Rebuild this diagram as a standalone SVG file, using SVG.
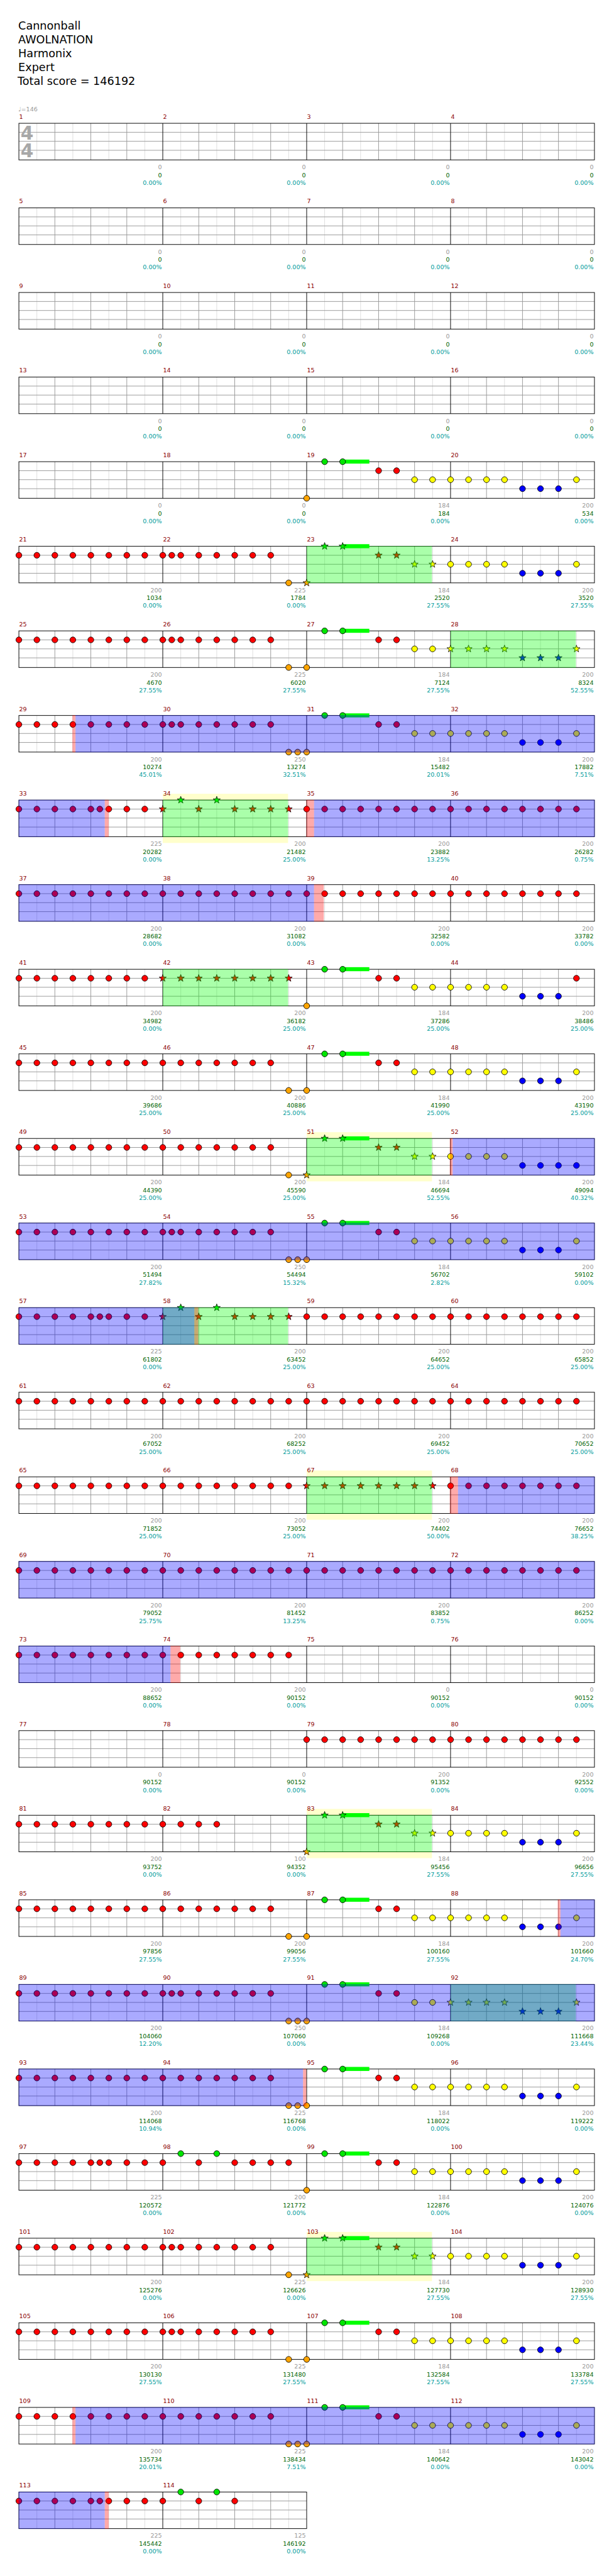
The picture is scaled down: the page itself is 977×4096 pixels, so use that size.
<svg xmlns="http://www.w3.org/2000/svg" width="977" height="4096" viewBox="0 0 977 4096">
<style>
text{font-family:"DejaVu Sans","Liberation Sans",sans-serif;font-size:10px}
.t{font-size:18.5px;fill:#000}
.ts{font-size:31px;font-weight:bold;fill:#a8a8a8}
.n{fill:#8b0000}
.a{fill:#999;text-anchor:end}
.b{fill:#006400;text-anchor:end}
.c{fill:#009c9c;text-anchor:end}
.ys{fill:#ffffcc}
.og{fill:#0f0;fill-opacity:.333}
.ob{fill:#00f;fill-opacity:.333}
.op{fill:#f00;fill-opacity:.333}
</style>
<defs>
<g id="g4"><rect width="960" height="61" fill="#fff"/><path d="M30 0v61M90 0v61M150 0v61M210 0v61M270 0v61M330 0v61M390 0v61M450 0v61M510 0v61M570 0v61M630 0v61M690 0v61M750 0v61M810 0v61M870 0v61M930 0v61" stroke="#ddd"/><path d="M60 0v61M120 0v61M180 0v61M300 0v61M360 0v61M420 0v61M540 0v61M600 0v61M660 0v61M780 0v61M840 0v61M900 0v61M0 15h960M0 30h960M0 45h960" stroke="#999"/><path d="M240 0v61M480 0v61M720 0v61" stroke="#000"/><rect width="960" height="61" fill="none" stroke="#000"/></g>
<g id="g2"><rect width="480" height="61" fill="#fff"/><path d="M30 0v61M90 0v61M150 0v61M210 0v61M270 0v61M330 0v61M390 0v61M450 0v61" stroke="#ddd"/><path d="M60 0v61M120 0v61M180 0v61M300 0v61M360 0v61M420 0v61M0 15h480M0 30h480M0 45h480" stroke="#999"/><path d="M240 0v61" stroke="#000"/><rect width="480" height="61" fill="none" stroke="#000"/></g>
<circle id="R" r="4.9" fill="#f00" stroke="#000" stroke-width=".9"/>
<circle id="Y" r="4.9" fill="#ff0" stroke="#000" stroke-width=".9"/>
<circle id="B" r="4.9" fill="#00f" stroke="#000" stroke-width=".9"/>
<circle id="O" r="4.9" fill="#ffa500" stroke="#000" stroke-width=".9"/>
<circle id="G" r="4.9" fill="#00e600" stroke="#000" stroke-width=".9"/>
<path id="st" d="M0-6.3L1.5-2.06L5.99-1.95L2.43.79L3.7 5.1L0 2.55L-3.7 5.1L-2.43.79L-5.99-1.95L-1.5-2.06Z" stroke="#000" stroke-width=".8"/>
<use id="SR" href="#st" fill="#f00"/>
<use id="SY" href="#st" fill="#ff0"/>
<use id="SB" href="#st" fill="#00f"/>
<use id="SO" href="#st" fill="#ffa500"/>
<use id="SG" href="#st" fill="#00e600"/>
<g id="pR8" transform="translate(0,15)"><use href="#R"/><use href="#R" x="30"/><use href="#R" x="60"/><use href="#R" x="90"/><use href="#R" x="120"/><use href="#R" x="150"/><use href="#R" x="180"/><use href="#R" x="210"/></g>
<g id="pR8b" transform="translate(0,15)"><use href="#R"/><use href="#R" x="15"/><use href="#R" x="30"/><use href="#R" x="60"/><use href="#R" x="90"/><use href="#R" x="120"/><use href="#R" x="150"/><use href="#R" x="180"/></g>
<g id="pR7" transform="translate(0,15)"><use href="#R"/><use href="#R" x="30"/><use href="#R" x="60"/><use href="#R" x="90"/><use href="#R" x="120"/><use href="#R" x="150"/><use href="#R" x="180"/></g>
<g id="pR9" transform="translate(0,15)"><use href="#R"/><use href="#R" x="30"/><use href="#R" x="60"/><use href="#R" x="90"/><use href="#R" x="120"/><use href="#R" x="135"/><use href="#R" x="150"/><use href="#R" x="180"/><use href="#R" x="210"/></g>
<g id="pR4" transform="translate(0,15)"><use href="#R"/><use href="#R" x="30"/><use href="#R" x="60"/><use href="#R" x="90"/></g>
<g id="pR8s" transform="translate(0,15)"><use href="#SR"/><use href="#SR" x="30"/><use href="#SR" x="60"/><use href="#SR" x="90"/><use href="#SR" x="120"/><use href="#SR" x="150"/><use href="#SR" x="180"/><use href="#SR" x="210"/></g>
<g id="pRG"><use href="#R" y="15"/><use href="#G" x="30"/><use href="#R" x="60" y="15"/><use href="#G" x="90"/><use href="#R" x="120" y="15"/><use href="#R" x="150" y="15"/><use href="#R" x="180" y="15"/><use href="#R" x="210" y="15"/></g>
<g id="pRG5"><use href="#R" y="15"/><use href="#G" x="30"/><use href="#R" x="60" y="15"/><use href="#G" x="90"/><use href="#R" x="120" y="15"/></g>
<g id="pRGs"><use href="#SR" y="15"/><use href="#SG" x="30"/><use href="#SR" x="60" y="15"/><use href="#SG" x="90"/><use href="#SR" x="120" y="15"/><use href="#SR" x="150" y="15"/><use href="#SR" x="180" y="15"/><use href="#SR" x="210" y="15"/></g>
<g id="pA1"><rect x="60" y="-3.5" width="44.5" height="6.7" fill="#0f0"/><use href="#G" x="30"/><use href="#G" x="60"/><use href="#R" x="120" y="15"/><use href="#R" x="150" y="15"/><use href="#Y" x="180" y="30"/><use href="#Y" x="210" y="30"/></g>
<g id="pA1s"><rect x="60" y="-3.5" width="44.5" height="6.7" fill="#0f0"/><use href="#SG" x="30"/><use href="#SG" x="60"/><use href="#SR" x="120" y="15"/><use href="#SR" x="150" y="15"/><use href="#SY" x="180" y="30"/><use href="#SY" x="210" y="30"/></g>
<g id="pA2"><use href="#Y" y="30"/><use href="#Y" x="30" y="30"/><use href="#Y" x="60" y="30"/><use href="#Y" x="90" y="30"/><use href="#B" x="120" y="45"/><use href="#B" x="150" y="45"/><use href="#B" x="180" y="45"/><use href="#Y" x="210" y="30"/></g>
<g id="pA2s"><use href="#SY" y="30"/><use href="#SY" x="30" y="30"/><use href="#SY" x="60" y="30"/><use href="#SY" x="90" y="30"/><use href="#SB" x="120" y="45"/><use href="#SB" x="150" y="45"/><use href="#SB" x="180" y="45"/><use href="#SY" x="210" y="30"/></g>
<g id="pA2r"><use href="#Y" y="30"/><use href="#Y" x="30" y="30"/><use href="#Y" x="60" y="30"/><use href="#Y" x="90" y="30"/><use href="#B" x="120" y="45"/><use href="#B" x="150" y="45"/><use href="#B" x="180" y="45"/><use href="#R" x="210" y="15"/></g>
<g id="pA2b"><use href="#Y" y="30"/><use href="#Y" x="30" y="30"/><use href="#Y" x="60" y="30"/><use href="#Y" x="90" y="30"/><use href="#B" x="120" y="45"/><use href="#B" x="150" y="45"/><use href="#B" x="180" y="45"/><use href="#B" x="210" y="45"/></g>
</defs>
<g transform="scale(0.954)">
<rect width="1024" height="4294" fill="#fff"/>
<g id="title">
<text class="t" x="30.5" y="49">Cannonball</text>
<text class="t" x="30.5" y="72">AWOLNATION</text>
<text class="t" x="30.5" y="95">Harmonix</text>
<text class="t" x="30.5" y="118">Expert</text>
<text class="t" x="29.3" y="141.5">Total score = 146192</text>
</g>

<g id="row1" transform="translate(0,205.5)">
<use href="#g4" x="31.5"/>
<text x="30.5" y="-20.5" fill="#999">♩=146</text>
<text class="ts" x="34.2" y="26.8">4</text>
<text class="ts" x="34.2" y="56.8">4</text>
<text class="n" x="32" y="-7.5">1</text><text class="n" x="272" y="-7.5">2</text><text class="n" x="512" y="-7.5">3</text><text class="n" x="752" y="-7.5">4</text>
<text class="a" x="270" y="76.5">0</text><text class="b" x="270" y="89.8">0</text><text class="c" x="270" y="102.5">0.00%</text>
<text class="a" x="510" y="76.5">0</text><text class="b" x="510" y="89.8">0</text><text class="c" x="510" y="102.5">0.00%</text>
<text class="a" x="750" y="76.5">0</text><text class="b" x="750" y="89.8">0</text><text class="c" x="750" y="102.5">0.00%</text>
<text class="a" x="990" y="76.5">0</text><text class="b" x="990" y="89.8">0</text><text class="c" x="990" y="102.5">0.00%</text>
</g>

<g id="row2" transform="translate(0,346.5)">
<use href="#g4" x="31.5"/>
<text class="n" x="32" y="-7.5">5</text><text class="n" x="272" y="-7.5">6</text><text class="n" x="512" y="-7.5">7</text><text class="n" x="752" y="-7.5">8</text>
<text class="a" x="270" y="76.5">0</text><text class="b" x="270" y="89.8">0</text><text class="c" x="270" y="102.5">0.00%</text>
<text class="a" x="510" y="76.5">0</text><text class="b" x="510" y="89.8">0</text><text class="c" x="510" y="102.5">0.00%</text>
<text class="a" x="750" y="76.5">0</text><text class="b" x="750" y="89.8">0</text><text class="c" x="750" y="102.5">0.00%</text>
<text class="a" x="990" y="76.5">0</text><text class="b" x="990" y="89.8">0</text><text class="c" x="990" y="102.5">0.00%</text>
</g>

<g id="row3" transform="translate(0,487.5)">
<use href="#g4" x="31.5"/>
<text class="n" x="32" y="-7.5">9</text><text class="n" x="272" y="-7.5">10</text><text class="n" x="512" y="-7.5">11</text><text class="n" x="752" y="-7.5">12</text>
<text class="a" x="270" y="76.5">0</text><text class="b" x="270" y="89.8">0</text><text class="c" x="270" y="102.5">0.00%</text>
<text class="a" x="510" y="76.5">0</text><text class="b" x="510" y="89.8">0</text><text class="c" x="510" y="102.5">0.00%</text>
<text class="a" x="750" y="76.5">0</text><text class="b" x="750" y="89.8">0</text><text class="c" x="750" y="102.5">0.00%</text>
<text class="a" x="990" y="76.5">0</text><text class="b" x="990" y="89.8">0</text><text class="c" x="990" y="102.5">0.00%</text>
</g>

<g id="row4" transform="translate(0,628.5)">
<use href="#g4" x="31.5"/>
<text class="n" x="32" y="-7.5">13</text><text class="n" x="272" y="-7.5">14</text><text class="n" x="512" y="-7.5">15</text><text class="n" x="752" y="-7.5">16</text>
<text class="a" x="270" y="76.5">0</text><text class="b" x="270" y="89.8">0</text><text class="c" x="270" y="102.5">0.00%</text>
<text class="a" x="510" y="76.5">0</text><text class="b" x="510" y="89.8">0</text><text class="c" x="510" y="102.5">0.00%</text>
<text class="a" x="750" y="76.5">0</text><text class="b" x="750" y="89.8">0</text><text class="c" x="750" y="102.5">0.00%</text>
<text class="a" x="990" y="76.5">0</text><text class="b" x="990" y="89.8">0</text><text class="c" x="990" y="102.5">0.00%</text>
</g>

<g id="row5" transform="translate(0,769.5)">
<use href="#g4" x="31.5"/>
<use href="#O" x="511.5" y="61"/><use href="#pA1" x="511.5"/><use href="#pA2" x="751.5"/>
<text class="n" x="32" y="-7.5">17</text><text class="n" x="272" y="-7.5">18</text><text class="n" x="512" y="-7.5">19</text><text class="n" x="752" y="-7.5">20</text>
<text class="a" x="270" y="76.5">0</text><text class="b" x="270" y="89.8">0</text><text class="c" x="270" y="102.5">0.00%</text>
<text class="a" x="510" y="76.5">0</text><text class="b" x="510" y="89.8">0</text><text class="c" x="510" y="102.5">0.00%</text>
<text class="a" x="750" y="76.5">184</text><text class="b" x="750" y="89.8">184</text><text class="c" x="750" y="102.5">0.00%</text>
<text class="a" x="990" y="76.5">200</text><text class="b" x="990" y="89.8">534</text><text class="c" x="990" y="102.5">0.00%</text>
</g>

<g id="row6" transform="translate(0,910.5)">
<use href="#g4" x="31.5"/>
<use href="#pR8" x="31.5"/><use href="#pR8b" x="271.5"/><use href="#O" x="481.5" y="61"/><use href="#SO" x="511.5" y="61"/><use href="#pA1s" x="511.5"/><use href="#pA2" x="751.5"/>
<rect class="og" x="511.5" y="-.5" width="209" height="62"/>
<text class="n" x="32" y="-7.5">21</text><text class="n" x="272" y="-7.5">22</text><text class="n" x="512" y="-7.5">23</text><text class="n" x="752" y="-7.5">24</text>
<text class="a" x="270" y="76.5">200</text><text class="b" x="270" y="89.8">1034</text><text class="c" x="270" y="102.5">0.00%</text>
<text class="a" x="510" y="76.5">225</text><text class="b" x="510" y="89.8">1784</text><text class="c" x="510" y="102.5">0.00%</text>
<text class="a" x="750" y="76.5">184</text><text class="b" x="750" y="89.8">2520</text><text class="c" x="750" y="102.5">27.55%</text>
<text class="a" x="990" y="76.5">200</text><text class="b" x="990" y="89.8">3520</text><text class="c" x="990" y="102.5">27.55%</text>
</g>

<g id="row7" transform="translate(0,1051.5)">
<use href="#g4" x="31.5"/>
<use href="#pR8" x="31.5"/><use href="#pR8b" x="271.5"/><use href="#O" x="481.5" y="61"/><use href="#O" x="511.5" y="61"/><use href="#pA1" x="511.5"/><use href="#pA2s" x="751.5"/>
<rect class="og" x="751.5" y="-.5" width="209" height="62"/>
<text class="n" x="32" y="-7.5">25</text><text class="n" x="272" y="-7.5">26</text><text class="n" x="512" y="-7.5">27</text><text class="n" x="752" y="-7.5">28</text>
<text class="a" x="270" y="76.5">200</text><text class="b" x="270" y="89.8">4670</text><text class="c" x="270" y="102.5">27.55%</text>
<text class="a" x="510" y="76.5">225</text><text class="b" x="510" y="89.8">6020</text><text class="c" x="510" y="102.5">27.55%</text>
<text class="a" x="750" y="76.5">184</text><text class="b" x="750" y="89.8">7124</text><text class="c" x="750" y="102.5">27.55%</text>
<text class="a" x="990" y="76.5">200</text><text class="b" x="990" y="89.8">8324</text><text class="c" x="990" y="102.5">52.55%</text>
</g>

<g id="row8" transform="translate(0,1192.5)">
<use href="#g4" x="31.5"/>
<use href="#pR8" x="31.5"/><use href="#pR8b" x="271.5"/><use href="#O" x="481.5" y="61"/><use href="#O" x="496.5" y="61"/><use href="#O" x="511.5" y="61"/><use href="#pA1" x="511.5"/><use href="#pA2" x="751.5"/>
<rect class="op" x="120.7" y="-.5" width="5.2" height="62"/><rect class="ob" x="125.9" y="-.5" width="866.1" height="62"/>
<text class="n" x="32" y="-7.5">29</text><text class="n" x="272" y="-7.5">30</text><text class="n" x="512" y="-7.5">31</text><text class="n" x="752" y="-7.5">32</text>
<text class="a" x="270" y="76.5">200</text><text class="b" x="270" y="89.8">10274</text><text class="c" x="270" y="102.5">45.01%</text>
<text class="a" x="510" y="76.5">250</text><text class="b" x="510" y="89.8">13274</text><text class="c" x="510" y="102.5">32.51%</text>
<text class="a" x="750" y="76.5">184</text><text class="b" x="750" y="89.8">15482</text><text class="c" x="750" y="102.5">20.01%</text>
<text class="a" x="990" y="76.5">200</text><text class="b" x="990" y="89.8">17882</text><text class="c" x="990" y="102.5">7.51%</text>
</g>

<g id="row9" transform="translate(0,1333.5)">
<rect class="ys" x="271.5" y="-10.5" width="209" height="82"/>
<use href="#g4" x="31.5"/>
<use href="#pR9" x="31.5"/><use href="#pRGs" x="271.5"/><use href="#pR8" x="511.5"/><use href="#pR8" x="751.5"/>
<rect class="og" x="271.5" y="-.5" width="209" height="62"/>
<rect class="ob" x="31" y="-.5" width="143.8" height="62"/><rect class="op" x="174.8" y="-.5" width="6.5" height="62"/>
<rect class="op" x="510.8" y="-.5" width="13" height="62"/><rect class="ob" x="523.8" y="-.5" width="468.2" height="62"/>
<text class="n" x="32" y="-7.5">33</text><text class="n" x="272" y="-7.5">34</text><text class="n" x="512" y="-7.5">35</text><text class="n" x="752" y="-7.5">36</text>
<text class="a" x="270" y="76.5">225</text><text class="b" x="270" y="89.8">20282</text><text class="c" x="270" y="102.5">0.00%</text>
<text class="a" x="510" y="76.5">200</text><text class="b" x="510" y="89.8">21482</text><text class="c" x="510" y="102.5">25.00%</text>
<text class="a" x="750" y="76.5">200</text><text class="b" x="750" y="89.8">23882</text><text class="c" x="750" y="102.5">13.25%</text>
<text class="a" x="990" y="76.5">200</text><text class="b" x="990" y="89.8">26282</text><text class="c" x="990" y="102.5">0.75%</text>
</g>

<g id="row10" transform="translate(0,1474.5)">
<use href="#g4" x="31.5"/>
<use href="#pR8" x="31.5"/><use href="#pR8" x="271.5"/><use href="#pR8" x="511.5"/><use href="#pR8" x="751.5"/>
<rect class="ob" x="31" y="-.5" width="492.8" height="62"/><rect class="op" x="523.8" y="-.5" width="16.3" height="62"/>
<text class="n" x="32" y="-7.5">37</text><text class="n" x="272" y="-7.5">38</text><text class="n" x="512" y="-7.5">39</text><text class="n" x="752" y="-7.5">40</text>
<text class="a" x="270" y="76.5">200</text><text class="b" x="270" y="89.8">28682</text><text class="c" x="270" y="102.5">0.00%</text>
<text class="a" x="510" y="76.5">200</text><text class="b" x="510" y="89.8">31082</text><text class="c" x="510" y="102.5">0.00%</text>
<text class="a" x="750" y="76.5">200</text><text class="b" x="750" y="89.8">32582</text><text class="c" x="750" y="102.5">0.00%</text>
<text class="a" x="990" y="76.5">200</text><text class="b" x="990" y="89.8">33782</text><text class="c" x="990" y="102.5">0.00%</text>
</g>

<g id="row11" transform="translate(0,1615.5)">
<use href="#g4" x="31.5"/>
<use href="#pR8" x="31.5"/><use href="#pR8s" x="271.5"/><use href="#O" x="511.5" y="61"/><use href="#pA1" x="511.5"/><use href="#pA2r" x="751.5"/>
<rect class="og" x="271.5" y="-.5" width="209" height="62"/>
<text class="n" x="32" y="-7.5">41</text><text class="n" x="272" y="-7.5">42</text><text class="n" x="512" y="-7.5">43</text><text class="n" x="752" y="-7.5">44</text>
<text class="a" x="270" y="76.5">200</text><text class="b" x="270" y="89.8">34982</text><text class="c" x="270" y="102.5">0.00%</text>
<text class="a" x="510" y="76.5">200</text><text class="b" x="510" y="89.8">36182</text><text class="c" x="510" y="102.5">25.00%</text>
<text class="a" x="750" y="76.5">184</text><text class="b" x="750" y="89.8">37286</text><text class="c" x="750" y="102.5">25.00%</text>
<text class="a" x="990" y="76.5">200</text><text class="b" x="990" y="89.8">38486</text><text class="c" x="990" y="102.5">25.00%</text>
</g>

<g id="row12" transform="translate(0,1756.5)">
<use href="#g4" x="31.5"/>
<use href="#pR8" x="31.5"/><use href="#pR7" x="271.5"/><use href="#O" x="481.5" y="61"/><use href="#O" x="511.5" y="61"/><use href="#pA1" x="511.5"/><use href="#pA2" x="751.5"/>
<text class="n" x="32" y="-7.5">45</text><text class="n" x="272" y="-7.5">46</text><text class="n" x="512" y="-7.5">47</text><text class="n" x="752" y="-7.5">48</text>
<text class="a" x="270" y="76.5">200</text><text class="b" x="270" y="89.8">39686</text><text class="c" x="270" y="102.5">25.00%</text>
<text class="a" x="510" y="76.5">200</text><text class="b" x="510" y="89.8">40886</text><text class="c" x="510" y="102.5">25.00%</text>
<text class="a" x="750" y="76.5">184</text><text class="b" x="750" y="89.8">41990</text><text class="c" x="750" y="102.5">25.00%</text>
<text class="a" x="990" y="76.5">200</text><text class="b" x="990" y="89.8">43190</text><text class="c" x="990" y="102.5">25.00%</text>
</g>

<g id="row13" transform="translate(0,1897.5)">
<rect class="ys" x="511.5" y="-10.5" width="209" height="82"/>
<use href="#g4" x="31.5"/>
<use href="#pR8" x="31.5"/><use href="#pR7" x="271.5"/><use href="#O" x="481.5" y="61"/><use href="#SO" x="511.5" y="61"/><use href="#pA1s" x="511.5"/><use href="#pA2b" x="751.5"/>
<rect class="og" x="511.5" y="-.5" width="209" height="62"/>
<rect class="op" x="750.2" y="-.5" width="4.8" height="62"/><rect class="ob" x="755" y="-.5" width="237" height="62"/>
<text class="n" x="32" y="-7.5">49</text><text class="n" x="272" y="-7.5">50</text><text class="n" x="512" y="-7.5">51</text><text class="n" x="752" y="-7.5">52</text>
<text class="a" x="270" y="76.5">200</text><text class="b" x="270" y="89.8">44390</text><text class="c" x="270" y="102.5">25.00%</text>
<text class="a" x="510" y="76.5">200</text><text class="b" x="510" y="89.8">45590</text><text class="c" x="510" y="102.5">25.00%</text>
<text class="a" x="750" y="76.5">184</text><text class="b" x="750" y="89.8">46694</text><text class="c" x="750" y="102.5">52.55%</text>
<text class="a" x="990" y="76.5">200</text><text class="b" x="990" y="89.8">49094</text><text class="c" x="990" y="102.5">40.32%</text>
</g>

<g id="row14" transform="translate(0,2038.5)">
<use href="#g4" x="31.5"/>
<use href="#pR8" x="31.5"/><use href="#pR8b" x="271.5"/><use href="#O" x="481.5" y="61"/><use href="#O" x="496.5" y="61"/><use href="#O" x="511.5" y="61"/><use href="#pA1" x="511.5"/><use href="#pA2" x="751.5"/>
<rect class="ob" x="31" y="-.5" width="961" height="62"/>
<text class="n" x="32" y="-7.5">53</text><text class="n" x="272" y="-7.5">54</text><text class="n" x="512" y="-7.5">55</text><text class="n" x="752" y="-7.5">56</text>
<text class="a" x="270" y="76.5">200</text><text class="b" x="270" y="89.8">51494</text><text class="c" x="270" y="102.5">27.82%</text>
<text class="a" x="510" y="76.5">250</text><text class="b" x="510" y="89.8">54494</text><text class="c" x="510" y="102.5">15.32%</text>
<text class="a" x="750" y="76.5">184</text><text class="b" x="750" y="89.8">56702</text><text class="c" x="750" y="102.5">2.82%</text>
<text class="a" x="990" y="76.5">200</text><text class="b" x="990" y="89.8">59102</text><text class="c" x="990" y="102.5">0.00%</text>
</g>

<g id="row15" transform="translate(0,2179.5)">
<use href="#g4" x="31.5"/>
<use href="#pR9" x="31.5"/><use href="#pRGs" x="271.5"/><use href="#pR8" x="511.5"/><use href="#pR8" x="751.5"/>
<rect class="og" x="271.5" y="-.5" width="209" height="62"/>
<rect class="ob" x="31" y="-.5" width="293.2" height="62"/><rect class="op" x="324.2" y="-.5" width="6.5" height="62"/>
<text class="n" x="32" y="-7.5">57</text><text class="n" x="272" y="-7.5">58</text><text class="n" x="512" y="-7.5">59</text><text class="n" x="752" y="-7.5">60</text>
<text class="a" x="270" y="76.5">225</text><text class="b" x="270" y="89.8">61802</text><text class="c" x="270" y="102.5">0.00%</text>
<text class="a" x="510" y="76.5">200</text><text class="b" x="510" y="89.8">63452</text><text class="c" x="510" y="102.5">25.00%</text>
<text class="a" x="750" y="76.5">200</text><text class="b" x="750" y="89.8">64652</text><text class="c" x="750" y="102.5">25.00%</text>
<text class="a" x="990" y="76.5">200</text><text class="b" x="990" y="89.8">65852</text><text class="c" x="990" y="102.5">25.00%</text>
</g>

<g id="row16" transform="translate(0,2320.5)">
<use href="#g4" x="31.5"/>
<use href="#pR8" x="31.5"/><use href="#pR8" x="271.5"/><use href="#pR8" x="511.5"/><use href="#pR8" x="751.5"/>
<text class="n" x="32" y="-7.5">61</text><text class="n" x="272" y="-7.5">62</text><text class="n" x="512" y="-7.5">63</text><text class="n" x="752" y="-7.5">64</text>
<text class="a" x="270" y="76.5">200</text><text class="b" x="270" y="89.8">67052</text><text class="c" x="270" y="102.5">25.00%</text>
<text class="a" x="510" y="76.5">200</text><text class="b" x="510" y="89.8">68252</text><text class="c" x="510" y="102.5">25.00%</text>
<text class="a" x="750" y="76.5">200</text><text class="b" x="750" y="89.8">69452</text><text class="c" x="750" y="102.5">25.00%</text>
<text class="a" x="990" y="76.5">200</text><text class="b" x="990" y="89.8">70652</text><text class="c" x="990" y="102.5">25.00%</text>
</g>

<g id="row17" transform="translate(0,2461.5)">
<rect class="ys" x="511.5" y="-10.5" width="209" height="82"/>
<use href="#g4" x="31.5"/>
<use href="#pR8" x="31.5"/><use href="#pR8" x="271.5"/><use href="#pR8s" x="511.5"/><use href="#pR8" x="751.5"/>
<rect class="og" x="511.5" y="-.5" width="209" height="62"/>
<rect class="op" x="750.2" y="-.5" width="13.7" height="62"/><rect class="ob" x="763.9" y="-.5" width="228.1" height="62"/>
<text class="n" x="32" y="-7.5">65</text><text class="n" x="272" y="-7.5">66</text><text class="n" x="512" y="-7.5">67</text><text class="n" x="752" y="-7.5">68</text>
<text class="a" x="270" y="76.5">200</text><text class="b" x="270" y="89.8">71852</text><text class="c" x="270" y="102.5">25.00%</text>
<text class="a" x="510" y="76.5">200</text><text class="b" x="510" y="89.8">73052</text><text class="c" x="510" y="102.5">25.00%</text>
<text class="a" x="750" y="76.5">200</text><text class="b" x="750" y="89.8">74402</text><text class="c" x="750" y="102.5">50.00%</text>
<text class="a" x="990" y="76.5">200</text><text class="b" x="990" y="89.8">76652</text><text class="c" x="990" y="102.5">38.25%</text>
</g>

<g id="row18" transform="translate(0,2602.5)">
<use href="#g4" x="31.5"/>
<use href="#pR8" x="31.5"/><use href="#pR8" x="271.5"/><use href="#pR8" x="511.5"/><use href="#pR8" x="751.5"/>
<rect class="ob" x="31" y="-.5" width="961" height="62"/>
<text class="n" x="32" y="-7.5">69</text><text class="n" x="272" y="-7.5">70</text><text class="n" x="512" y="-7.5">71</text><text class="n" x="752" y="-7.5">72</text>
<text class="a" x="270" y="76.5">200</text><text class="b" x="270" y="89.8">79052</text><text class="c" x="270" y="102.5">25.75%</text>
<text class="a" x="510" y="76.5">200</text><text class="b" x="510" y="89.8">81452</text><text class="c" x="510" y="102.5">13.25%</text>
<text class="a" x="750" y="76.5">200</text><text class="b" x="750" y="89.8">83852</text><text class="c" x="750" y="102.5">0.75%</text>
<text class="a" x="990" y="76.5">200</text><text class="b" x="990" y="89.8">86252</text><text class="c" x="990" y="102.5">0.00%</text>
</g>

<g id="row19" transform="translate(0,2743.5)">
<use href="#g4" x="31.5"/>
<use href="#pR8" x="31.5"/><use href="#pR8" x="271.5"/>
<rect class="ob" x="31" y="-.5" width="253.4" height="62"/><rect class="op" x="284.4" y="-.5" width="16.3" height="62"/>
<text class="n" x="32" y="-7.5">73</text><text class="n" x="272" y="-7.5">74</text><text class="n" x="512" y="-7.5">75</text><text class="n" x="752" y="-7.5">76</text>
<text class="a" x="270" y="76.5">200</text><text class="b" x="270" y="89.8">88652</text><text class="c" x="270" y="102.5">0.00%</text>
<text class="a" x="510" y="76.5">200</text><text class="b" x="510" y="89.8">90152</text><text class="c" x="510" y="102.5">0.00%</text>
<text class="a" x="750" y="76.5">0</text><text class="b" x="750" y="89.8">90152</text><text class="c" x="750" y="102.5">0.00%</text>
<text class="a" x="990" y="76.5">0</text><text class="b" x="990" y="89.8">90152</text><text class="c" x="990" y="102.5">0.00%</text>
</g>

<g id="row20" transform="translate(0,2884.5)">
<use href="#g4" x="31.5"/>
<use href="#pR8" x="511.5"/><use href="#pR8" x="751.5"/>
<text class="n" x="32" y="-7.5">77</text><text class="n" x="272" y="-7.5">78</text><text class="n" x="512" y="-7.5">79</text><text class="n" x="752" y="-7.5">80</text>
<text class="a" x="270" y="76.5">0</text><text class="b" x="270" y="89.8">90152</text><text class="c" x="270" y="102.5">0.00%</text>
<text class="a" x="510" y="76.5">0</text><text class="b" x="510" y="89.8">90152</text><text class="c" x="510" y="102.5">0.00%</text>
<text class="a" x="750" y="76.5">200</text><text class="b" x="750" y="89.8">91352</text><text class="c" x="750" y="102.5">0.00%</text>
<text class="a" x="990" y="76.5">200</text><text class="b" x="990" y="89.8">92552</text><text class="c" x="990" y="102.5">0.00%</text>
</g>

<g id="row21" transform="translate(0,3025.5)">
<rect class="ys" x="511.5" y="-10.5" width="209" height="82"/>
<use href="#g4" x="31.5"/>
<use href="#pR8" x="31.5"/><use href="#pR4" x="271.5"/><use href="#SO" x="511.5" y="61"/><use href="#pA1s" x="511.5"/><use href="#pA2" x="751.5"/>
<rect class="og" x="511.5" y="-.5" width="209" height="62"/>
<text class="n" x="32" y="-7.5">81</text><text class="n" x="272" y="-7.5">82</text><text class="n" x="512" y="-7.5">83</text><text class="n" x="752" y="-7.5">84</text>
<text class="a" x="270" y="76.5">200</text><text class="b" x="270" y="89.8">93752</text><text class="c" x="270" y="102.5">0.00%</text>
<text class="a" x="510" y="76.5">100</text><text class="b" x="510" y="89.8">94352</text><text class="c" x="510" y="102.5">0.00%</text>
<text class="a" x="750" y="76.5">184</text><text class="b" x="750" y="89.8">95456</text><text class="c" x="750" y="102.5">27.55%</text>
<text class="a" x="990" y="76.5">200</text><text class="b" x="990" y="89.8">96656</text><text class="c" x="990" y="102.5">27.55%</text>
</g>

<g id="row22" transform="translate(0,3166.5)">
<use href="#g4" x="31.5"/>
<use href="#pR8" x="31.5"/><use href="#pR7" x="271.5"/><use href="#O" x="481.5" y="61"/><use href="#O" x="511.5" y="61"/><use href="#pA1" x="511.5"/><use href="#pA2" x="751.5"/>
<rect class="op" x="930.2" y="-.5" width="4.6" height="62"/><rect class="ob" x="934.8" y="-.5" width="57.2" height="62"/>
<text class="n" x="32" y="-7.5">85</text><text class="n" x="272" y="-7.5">86</text><text class="n" x="512" y="-7.5">87</text><text class="n" x="752" y="-7.5">88</text>
<text class="a" x="270" y="76.5">200</text><text class="b" x="270" y="89.8">97856</text><text class="c" x="270" y="102.5">27.55%</text>
<text class="a" x="510" y="76.5">200</text><text class="b" x="510" y="89.8">99056</text><text class="c" x="510" y="102.5">27.55%</text>
<text class="a" x="750" y="76.5">184</text><text class="b" x="750" y="89.8">100160</text><text class="c" x="750" y="102.5">27.55%</text>
<text class="a" x="990" y="76.5">200</text><text class="b" x="990" y="89.8">101660</text><text class="c" x="990" y="102.5">24.70%</text>
</g>

<g id="row23" transform="translate(0,3307.5)">
<use href="#g4" x="31.5"/>
<use href="#pR8" x="31.5"/><use href="#pR8b" x="271.5"/><use href="#O" x="481.5" y="61"/><use href="#O" x="496.5" y="61"/><use href="#O" x="511.5" y="61"/><use href="#pA1" x="511.5"/><use href="#pA2s" x="751.5"/>
<rect class="og" x="751.5" y="-.5" width="209" height="62"/>
<rect class="ob" x="31" y="-.5" width="961" height="62"/>
<text class="n" x="32" y="-7.5">89</text><text class="n" x="272" y="-7.5">90</text><text class="n" x="512" y="-7.5">91</text><text class="n" x="752" y="-7.5">92</text>
<text class="a" x="270" y="76.5">200</text><text class="b" x="270" y="89.8">104060</text><text class="c" x="270" y="102.5">12.20%</text>
<text class="a" x="510" y="76.5">250</text><text class="b" x="510" y="89.8">107060</text><text class="c" x="510" y="102.5">0.00%</text>
<text class="a" x="750" y="76.5">184</text><text class="b" x="750" y="89.8">109268</text><text class="c" x="750" y="102.5">0.00%</text>
<text class="a" x="990" y="76.5">200</text><text class="b" x="990" y="89.8">111668</text><text class="c" x="990" y="102.5">23.44%</text>
</g>

<g id="row24" transform="translate(0,3448.5)">
<use href="#g4" x="31.5"/>
<use href="#pR8" x="31.5"/><use href="#pR7" x="271.5"/><use href="#O" x="481.5" y="61"/><use href="#O" x="496.5" y="61"/><use href="#O" x="511.5" y="61"/><use href="#pA1" x="511.5"/><use href="#pA2" x="751.5"/>
<rect class="ob" x="31" y="-.5" width="474.5" height="62"/><rect class="op" x="505.5" y="-.5" width="5.5" height="62"/>
<text class="n" x="32" y="-7.5">93</text><text class="n" x="272" y="-7.5">94</text><text class="n" x="512" y="-7.5">95</text><text class="n" x="752" y="-7.5">96</text>
<text class="a" x="270" y="76.5">200</text><text class="b" x="270" y="89.8">114068</text><text class="c" x="270" y="102.5">10.94%</text>
<text class="a" x="510" y="76.5">225</text><text class="b" x="510" y="89.8">116768</text><text class="c" x="510" y="102.5">0.00%</text>
<text class="a" x="750" y="76.5">184</text><text class="b" x="750" y="89.8">118022</text><text class="c" x="750" y="102.5">0.00%</text>
<text class="a" x="990" y="76.5">200</text><text class="b" x="990" y="89.8">119222</text><text class="c" x="990" y="102.5">0.00%</text>
</g>

<g id="row25" transform="translate(0,3589.5)">
<use href="#g4" x="31.5"/>
<use href="#pR9" x="31.5"/><use href="#pRG" x="271.5"/><use href="#O" x="511.5" y="61"/><use href="#pA1" x="511.5"/><use href="#pA2" x="751.5"/>
<text class="n" x="32" y="-7.5">97</text><text class="n" x="272" y="-7.5">98</text><text class="n" x="512" y="-7.5">99</text><text class="n" x="752" y="-7.5">100</text>
<text class="a" x="270" y="76.5">225</text><text class="b" x="270" y="89.8">120572</text><text class="c" x="270" y="102.5">0.00%</text>
<text class="a" x="510" y="76.5">200</text><text class="b" x="510" y="89.8">121772</text><text class="c" x="510" y="102.5">0.00%</text>
<text class="a" x="750" y="76.5">184</text><text class="b" x="750" y="89.8">122876</text><text class="c" x="750" y="102.5">0.00%</text>
<text class="a" x="990" y="76.5">200</text><text class="b" x="990" y="89.8">124076</text><text class="c" x="990" y="102.5">0.00%</text>
</g>

<g id="row26" transform="translate(0,3730.5)">
<rect class="ys" x="511.5" y="-10.5" width="209" height="82"/>
<use href="#g4" x="31.5"/>
<use href="#pR8" x="31.5"/><use href="#pR8b" x="271.5"/><use href="#O" x="481.5" y="61"/><use href="#SO" x="511.5" y="61"/><use href="#pA1s" x="511.5"/><use href="#pA2" x="751.5"/>
<rect class="og" x="511.5" y="-.5" width="209" height="62"/>
<text class="n" x="32" y="-7.5">101</text><text class="n" x="272" y="-7.5">102</text><text class="n" x="512" y="-7.5">103</text><text class="n" x="752" y="-7.5">104</text>
<text class="a" x="270" y="76.5">200</text><text class="b" x="270" y="89.8">125276</text><text class="c" x="270" y="102.5">0.00%</text>
<text class="a" x="510" y="76.5">225</text><text class="b" x="510" y="89.8">126626</text><text class="c" x="510" y="102.5">0.00%</text>
<text class="a" x="750" y="76.5">184</text><text class="b" x="750" y="89.8">127730</text><text class="c" x="750" y="102.5">27.55%</text>
<text class="a" x="990" y="76.5">200</text><text class="b" x="990" y="89.8">128930</text><text class="c" x="990" y="102.5">27.55%</text>
</g>

<g id="row27" transform="translate(0,3871.5)">
<use href="#g4" x="31.5"/>
<use href="#pR8" x="31.5"/><use href="#pR8b" x="271.5"/><use href="#O" x="481.5" y="61"/><use href="#O" x="511.5" y="61"/><use href="#pA1" x="511.5"/><use href="#pA2" x="751.5"/>
<text class="n" x="32" y="-7.5">105</text><text class="n" x="272" y="-7.5">106</text><text class="n" x="512" y="-7.5">107</text><text class="n" x="752" y="-7.5">108</text>
<text class="a" x="270" y="76.5">200</text><text class="b" x="270" y="89.8">130130</text><text class="c" x="270" y="102.5">27.55%</text>
<text class="a" x="510" y="76.5">225</text><text class="b" x="510" y="89.8">131480</text><text class="c" x="510" y="102.5">27.55%</text>
<text class="a" x="750" y="76.5">184</text><text class="b" x="750" y="89.8">132584</text><text class="c" x="750" y="102.5">27.55%</text>
<text class="a" x="990" y="76.5">200</text><text class="b" x="990" y="89.8">133784</text><text class="c" x="990" y="102.5">27.55%</text>
</g>

<g id="row28" transform="translate(0,4012.5)">
<use href="#g4" x="31.5"/>
<use href="#pR8" x="31.5"/><use href="#pR7" x="271.5"/><use href="#O" x="481.5" y="61"/><use href="#O" x="496.5" y="61"/><use href="#O" x="511.5" y="61"/><use href="#pA1" x="511.5"/><use href="#pA2" x="751.5"/>
<rect class="op" x="120.7" y="-.5" width="5.2" height="62"/><rect class="ob" x="125.9" y="-.5" width="866.1" height="62"/>
<text class="n" x="32" y="-7.5">109</text><text class="n" x="272" y="-7.5">110</text><text class="n" x="512" y="-7.5">111</text><text class="n" x="752" y="-7.5">112</text>
<text class="a" x="270" y="76.5">200</text><text class="b" x="270" y="89.8">135734</text><text class="c" x="270" y="102.5">20.01%</text>
<text class="a" x="510" y="76.5">225</text><text class="b" x="510" y="89.8">138434</text><text class="c" x="510" y="102.5">7.51%</text>
<text class="a" x="750" y="76.5">184</text><text class="b" x="750" y="89.8">140642</text><text class="c" x="750" y="102.5">0.00%</text>
<text class="a" x="990" y="76.5">200</text><text class="b" x="990" y="89.8">143042</text><text class="c" x="990" y="102.5">0.00%</text>
</g>

<g id="row29" transform="translate(0,4153.5)">
<use href="#g2" x="31.5"/>
<use href="#pR9" x="31.5"/><use href="#pRG5" x="271.5"/>
<rect class="ob" x="31" y="-.5" width="143.8" height="62"/><rect class="op" x="174.8" y="-.5" width="6.5" height="62"/>
<text class="n" x="32" y="-7.5">113</text><text class="n" x="272" y="-7.5">114</text>
<text class="a" x="270" y="76.5">225</text><text class="b" x="270" y="89.8">145442</text><text class="c" x="270" y="102.5">0.00%</text>
<text class="a" x="510" y="76.5">125</text><text class="b" x="510" y="89.8">146192</text><text class="c" x="510" y="102.5">0.00%</text>
</g>
</g>
</svg>
